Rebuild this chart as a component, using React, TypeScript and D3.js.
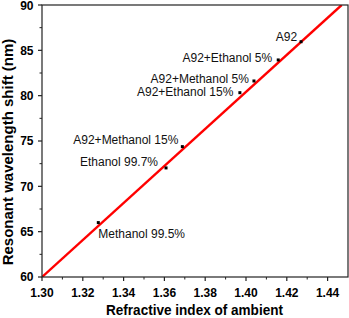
import React from "react";
import * as d3 from "d3";

const sampleNames = [
  "A92",
  "A92+Ethanol 5%",
  "A92+Methanol 5%",
  "A92+Ethanol 15%",
  "A92+Methanol 15%",
  "Ethanol 99.7%",
  "Methanol 99.5%",
];
const refractiveIndex = [1.427, 1.4158, 1.4039, 1.397, 1.3688, 1.3608, 1.3276];
const wavelengthShift = [85.95, 83.94, 81.62, 80.33, 74.38, 72.03, 66.0];

// linear fit
const fitX = [1.3, 1.4469];
const fitY = [60.0, 90.0];

const xTicks = [1.3, 1.32, 1.34, 1.36, 1.38, 1.4, 1.42, 1.44];
const yTicks = [60, 65, 70, 75, 80, 85, 90];

// label placement relative to each point (anchor, dx, dy)
const labelPos: [string, number, number][] = [
  ["end", -4, -1],
  ["end", -6, 2],
  ["end", -5, 2],
  ["end", -6.5, 3],
  ["end", -4, -3],
  ["end", -8, -2],
  ["start", 0, 15],
];

const W = 349;
const H = 318;
const margin = { top: 5, right: 1, bottom: 41, left: 42 };

export default function App() {
  const innerW = W - margin.left - margin.right;
  const innerH = H - margin.top - margin.bottom;

  const x = d3.scaleLinear().domain([1.3, 1.45]).range([0, innerW]);
  const y = d3.scaleLinear().domain([60, 90]).range([innerH, 0]);

  const line = d3
    .line<number>()
    .x((d) => x(fitX[d]))
    .y((d) => y(fitY[d]));

  const xMinor = d3.range(1.31, 1.45, 0.02);
  const yMinor = d3.range(62.5, 90, 5);

  return (
    <svg
      width={W}
      height={H}
      style={{ position: "absolute", left: 0, top: 0, background: "#fff" }}
      fontFamily="'Liberation Sans', Arial, sans-serif"
    >
      <defs>
        <clipPath id="plot">
          <rect x={0} y={0} width={innerW} height={innerH} />
        </clipPath>
      </defs>
      <g transform={`translate(${margin.left},${margin.top})`}>
        <path
          d={line([0, 1]) || ""}
          stroke="#ff0000"
          strokeWidth={2.4}
          fill="none"
          clipPath="url(#plot)"
        />
        {refractiveIndex.map((rx, i) => (
          <rect
            key={i}
            x={x(rx) - 1.5}
            y={y(wavelengthShift[i]) - 1.5}
            width={3}
            height={3}
            fill="#000"
          />
        ))}
        {sampleNames.map((name, i) => (
          <text
            key={name}
            x={x(refractiveIndex[i]) + labelPos[i][1]}
            y={y(wavelengthShift[i]) + labelPos[i][2]}
            textAnchor={labelPos[i][0]}
            fontSize={12}
            fill="#111"
          >
            {name}
          </text>
        ))}

        <rect
          x={0}
          y={0}
          width={innerW}
          height={innerH}
          fill="none"
          stroke="#222"
          strokeWidth={1.2}
        />

        {xTicks.map((t) => (
          <g key={t} transform={`translate(${x(t)},${innerH})`}>
            <line y2={4} stroke="#222" strokeWidth={1.2} />
            <text y={20} textAnchor="middle" fontSize={12} fontWeight="bold">
              {t.toFixed(2)}
            </text>
          </g>
        ))}
        {xMinor.map((t) => (
          <line
            key={t}
            x1={x(t)}
            x2={x(t)}
            y1={innerH}
            y2={innerH + 2.5}
            stroke="#222"
            strokeWidth={1}
          />
        ))}
        {yTicks.map((t) => (
          <g key={t} transform={`translate(0,${y(t)})`}>
            <line x2={-4} stroke="#222" strokeWidth={1.2} />
            <text
              x={-8.5}
              dy={t === 90 ? "0.42em" : "0.36em"}
              textAnchor="end"
              fontSize={12}
              fontWeight="bold"
            >
              {t}
            </text>
          </g>
        ))}
        {yMinor.map((t) => (
          <line
            key={t}
            x1={0}
            x2={-2.5}
            y1={y(t)}
            y2={y(t)}
            stroke="#222"
            strokeWidth={1}
          />
        ))}
      </g>
      <text
        x={194.5}
        y={315}
        textAnchor="middle"
        fontSize={15}
        fontWeight="bold"
        textLength={177}
        lengthAdjust="spacingAndGlyphs"
      >
        Refractive index of ambient
      </text>
      <text
        transform="translate(13,152) rotate(-90)"
        textAnchor="middle"
        fontSize={15}
        fontWeight="bold"
      >
        Resonant wavelength shift (nm)
      </text>
    </svg>
  );
}
